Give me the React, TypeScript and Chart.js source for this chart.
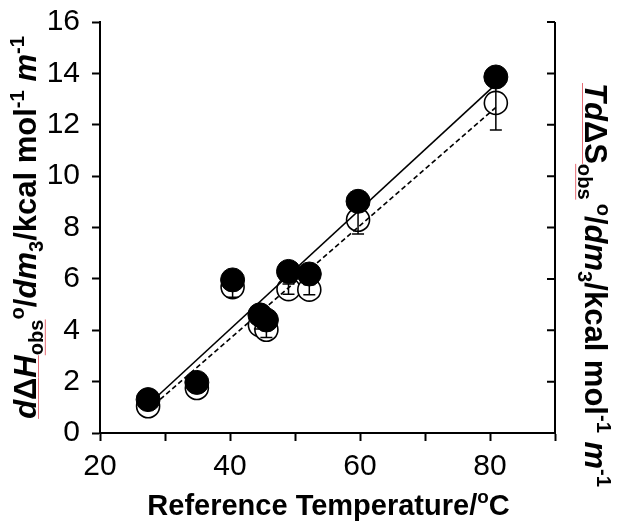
import React, { useEffect, useRef } from "react";
import { Chart, registerables } from "chart.js";

Chart.register(...registerables);

// ---- Data ----
const temperatures = [27.4, 34.9, 40.4, 44.6, 45.6, 49.0, 52.2, 59.7, 80.9];
const enthalpyFilled = [1.3, 1.97, 5.96, 4.6, 4.4, 6.29, 6.19, 9.02, 13.86];
const entropyOpen = [1.04, 1.75, 5.68, 4.2, 4.02, 5.6, 5.58, 8.3, 12.85];
const entropyErr = [0.08, 0.08, 0.4, 0.15, 0.3, 0.2, 0.2, 0.55, 1.05];
const fitX = [27.4, 81];
const fitEnthalpy = [1.1, 13.6];
const fitEntropy = [0.9, 12.7];
const xTickValues = [20, 30, 40, 50, 60, 70, 80, 90];
const xTickLabels = ["20", "", "40", "", "60", "", "80", ""];
const yTickValues = [0, 2, 4, 6, 8, 10, 12, 14, 16];

const FAMILY = "'Liberation Sans', Arial, sans-serif";

type Run = { text: string; italic?: boolean; script?: "sub" | "sup"; underline?: boolean; gap?: number };

const leftTitle: Run[] = [
  { text: "d", italic: true, underline: true },
  { text: "Δ", underline: true },
  { text: "H", italic: true, underline: true },
  { text: "obs", script: "sub", underline: true },
  { text: "o", script: "sup" },
  { text: "/" },
  { text: "dm", italic: true },
  { text: "3", script: "sub" },
  { text: "/kcal mol" },
  { text: "-1", script: "sup" },
  { text: " " },
  { text: "m", italic: true },
  { text: "-1", script: "sup" },
];

const rightTitle: Run[] = [
  { text: "Td", italic: true, underline: true },
  { text: "ΔS", underline: true },
  { text: "obs", script: "sub", underline: true },
  { text: "o", script: "sup", gap: 4 },
  { text: "/" },
  { text: "dm", italic: true },
  { text: "3", script: "sub" },
  { text: "/kcal mol" },
  { text: "-1", script: "sup" },
  { text: " " },
  { text: "m", italic: true },
  { text: "-1", script: "sup" },
];

const xTitle: Run[] = [
  { text: "Reference Temperature/" },
  { text: "o", script: "sup" },
  { text: "C" },
];

function drawRich(
  ctx: CanvasRenderingContext2D,
  runs: Run[],
  cx: number,
  cy: number,
  angle: number,
  size: number
) {
  ctx.save();
  ctx.translate(cx, cy);
  ctx.rotate(angle);
  const parts = runs.map((r) => {
    const s = r.script ? size * 0.65 : size;
    const font = `${r.italic ? "italic " : ""}bold ${s}px ${FAMILY}`;
    ctx.font = font;
    const w = ctx.measureText(r.text).width;
    return { ...r, font, w, gap: r.gap || 0 };
  });
  const total = parts.reduce((a, p) => a + p.w + p.gap, 0);
  let x = -total / 2;
  ctx.textAlign = "left";
  ctx.textBaseline = "alphabetic";
  for (const p of parts) {
    x += p.gap;
    const dy = p.script === "sub" ? size * 0.22 : p.script === "sup" ? -size * 0.4 : 0;
    ctx.font = p.font;
    ctx.fillStyle = "#000";
    ctx.fillText(p.text, x, dy);
    if (p.underline) {
      ctx.strokeStyle = "rgba(225,90,100,0.9)";
      ctx.lineWidth = 1;
      ctx.beginPath();
      ctx.moveTo(x, dy + 2.5);
      ctx.lineTo(x + p.w, dy + 2.5);
      ctx.stroke();
    }
    x += p.w;
  }
  ctx.restore();
}

const decorPlugin = {
  id: "decor",
  afterDatasetDraw(chart: any, args: any) {
    if (args.index !== 3) return;
    const { ctx } = chart;
    const xs = chart.scales.x;
    const ys = chart.scales.y;
    ctx.save();
    ctx.strokeStyle = "#000";
    ctx.lineWidth = 1.5;
    temperatures.forEach((t, i) => {
      const px = xs.getPixelForValue(t);
      const top = ys.getPixelForValue(entropyOpen[i] + entropyErr[i]);
      const bot = ys.getPixelForValue(entropyOpen[i] - entropyErr[i]);
      ctx.beginPath();
      ctx.moveTo(px, top);
      ctx.lineTo(px, bot);
      ctx.moveTo(px - 6, top);
      ctx.lineTo(px + 6, top);
      ctx.moveTo(px - 6, bot);
      ctx.lineTo(px + 6, bot);
      ctx.stroke();
    });
    ctx.restore();
  },
  afterDraw(chart: any) {
    const { ctx, chartArea } = chart;
    const ys = chart.scales.y;
    ctx.save();
    // right axis with inward ticks
    ctx.strokeStyle = "#000";
    ctx.lineWidth = 2;
    ctx.beginPath();
    ctx.moveTo(chartArea.right, ys.getPixelForValue(16));
    ctx.lineTo(chartArea.right, ys.getPixelForValue(0) + 1);
    yTickValues.forEach((v) => {
      const py = ys.getPixelForValue(v);
      ctx.moveTo(chartArea.right, py);
      ctx.lineTo(chartArea.right - 8, py);
    });
    ctx.stroke();
    ctx.restore();

    const midY = (chartArea.top + chartArea.bottom) / 2;
    const midX = (chartArea.left + chartArea.right) / 2;
    drawRich(ctx, leftTitle, 36, midY, -Math.PI / 2, 31);
    drawRich(ctx, rightTitle, 585, 285, Math.PI / 2, 31);
    drawRich(ctx, xTitle, midX + 1, 515, 0, 29);
  },
};

export default function App() {
  const ref = useRef<HTMLCanvasElement | null>(null);
  useEffect(() => {
    document.body.style.margin = "0";
    const canvas = ref.current!;
    const pts = (xs: number[], ys: number[]) => xs.map((x, i) => ({ x, y: ys[i] }));
    const chart = new Chart(canvas, {
      type: "scatter",
      data: {
        datasets: [
          {
            label: "dΔH",
            data: pts(temperatures, enthalpyFilled),
            pointRadius: 12,
            pointBackgroundColor: "#000",
            pointBorderColor: "#000",
            pointBorderWidth: 1,
            showLine: false,
            order: 1,
          },
          {
            label: "fit H",
            data: pts(fitX, fitEnthalpy),
            showLine: true,
            pointRadius: 0,
            borderColor: "#000",
            borderWidth: 1.6,
            order: 2,
          },
          {
            label: "fit S",
            data: pts(fitX, fitEntropy),
            showLine: true,
            pointRadius: 0,
            borderColor: "#000",
            borderWidth: 1.6,
            borderDash: [5, 3],
            order: 3,
          },
          {
            label: "TdΔS",
            data: pts(temperatures, entropyOpen),
            pointRadius: 11.5,
            pointBackgroundColor: "#fff",
            pointBorderColor: "#000",
            pointBorderWidth: 1.6,
            showLine: false,
            order: 4,
          },
        ],
      },
      options: {
        responsive: false,
        animation: false,
        devicePixelRatio: 1,
        layout: { padding: { left: 0, right: 69, top: 22, bottom: 0 } },
        plugins: { legend: { display: false }, tooltip: { enabled: false } },
        scales: {
          x: {
            type: "linear",
            min: 20,
            max: 90,
            afterBuildTicks: (scale: any) => {
              scale.ticks = xTickValues.map((v) => ({ value: v }));
            },
            afterFit: (scale: any) => {
              scale.height = 99;
            },
            ticks: {
              autoSkip: false,
              maxRotation: 0,
              padding: 8,
              color: "#000",
              font: { family: FAMILY, size: 30 },
              callback: (v: any) => {
                const i = xTickValues.indexOf(Number(v));
                return i >= 0 ? xTickLabels[i] : "";
              },
            },
            grid: {
              display: true,
              drawOnChartArea: false,
              drawTicks: true,
              tickLength: 8,
              tickWidth: 2,
              tickColor: "#000",
            },
            border: { display: true, color: "#000", width: 2 },
          },
          y: {
            type: "linear",
            min: 0,
            max: 16,
            afterBuildTicks: (scale: any) => {
              scale.ticks = yTickValues.map((v) => ({ value: v }));
            },
            afterFit: (scale: any) => {
              scale.width = 100;
            },
            ticks: {
              padding: 12,
              color: "#000",
              font: { family: FAMILY, size: 30, lineHeight: 0.5 },
              callback: (v: any) => String(v),
            },
            grid: {
              display: true,
              drawOnChartArea: false,
              drawTicks: true,
              tickLength: 8,
              tickWidth: 2,
              tickColor: "#000",
            },
            border: { display: true, color: "#000", width: 2 },
          },
        },
      },
      plugins: [decorPlugin],
    } as any);
    return () => chart.destroy();
  }, []);
  return (
    <div style={{ width: 624, height: 532, background: "#fff" }}>
      <canvas ref={ref} width={624} height={532} style={{ display: "block" }} />
    </div>
  );
}
